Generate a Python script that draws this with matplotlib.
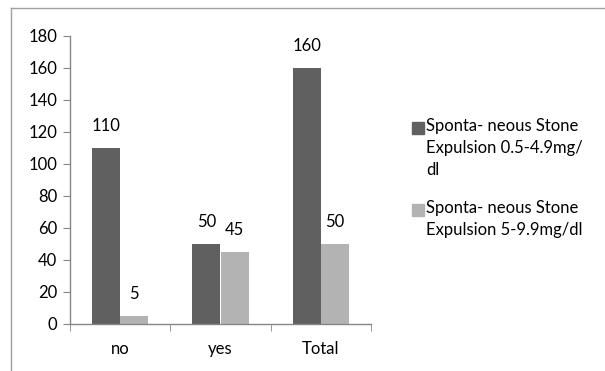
import matplotlib.pyplot as plt
from matplotlib.lines import Line2D
from matplotlib.patches import Rectangle
import numpy as np

categories = ['no', 'yes', 'Total']
low_range = [110, 50, 160]
high_range = [5, 45, 50]
series_names = ['Sponta- neous Stone\nExpulsion 0.5-4.9mg/\ndl',
                'Sponta- neous Stone\nExpulsion 5-9.9mg/dl']
y_ticks = [0, 20, 40, 60, 80, 100, 120, 140, 160, 180]

plt.rcParams['font.family'] = ['Lato', 'DejaVu Sans']
plt.rcParams['font.size'] = 12

W, H = 605, 371
fig = plt.figure(figsize=(W / 100, H / 100), dpi=100)
ax = fig.add_axes([70 / W, (H - 324) / H, (371 - 70) / W, 288 / H])

x = np.arange(len(categories))
w = 0.28
colors = ['#606060', '#b3b3b3']
b1 = ax.bar(x - w / 2, low_range, w, color=colors[0])
b2 = ax.bar(x + w / 2, high_range, w, color=colors[1])

for bars, vals in ((b1, low_range), (b2, high_range)):
    for bar, v in zip(bars, vals):
        ax.annotate(str(v), (bar.get_x() + bar.get_width() / 2, v),
                    xytext=(0, 10), textcoords='offset points',
                    ha='center', va='bottom')

ax.set_xlim(-0.5, 2.5)
ax.set_ylim(0, 180)
ax.set_yticks(y_ticks)
ax.set_xticks(x)
ax.set_xticklabels(categories)
ax.set_xticks(np.arange(-0.5, 3, 1), minor=True)
ax.tick_params(axis='x', which='major', length=0, pad=12)
ax.tick_params(axis='x', which='minor', length=5, color='#868686', direction='out')
ax.tick_params(axis='y', length=5, color='#868686', pad=4)

for side in ('top', 'right'):
    ax.spines[side].set_visible(False)
for side in ('left', 'bottom'):
    ax.spines[side].set_color('#868686')
    ax.spines[side].set_linewidth(1)

# legend: square aligned with the first line of each entry
for i, (name, c) in enumerate(zip(series_names, colors)):
    cy = 128 + i * 82
    fig.add_artist(Rectangle((412 / W, 1 - (cy + 6) / H), 12 / W, 12 / H,
                             transform=fig.transFigure, color=c))
    fig.text(426 / W, 1 - (cy - 10) / H, name, ha='left', va='top',
             linespacing=1.45)

# outer chart frame
fig.add_artist(Line2D([11.5 / W, 11.5 / W], [0, 1 - 8 / H], color='#a0a0a0', lw=1))
fig.add_artist(Line2D([11.5 / W, 1], [1 - 8 / H, 1 - 8 / H], color='#a0a0a0', lw=1))

fig.savefig('out.png', dpi=100)
